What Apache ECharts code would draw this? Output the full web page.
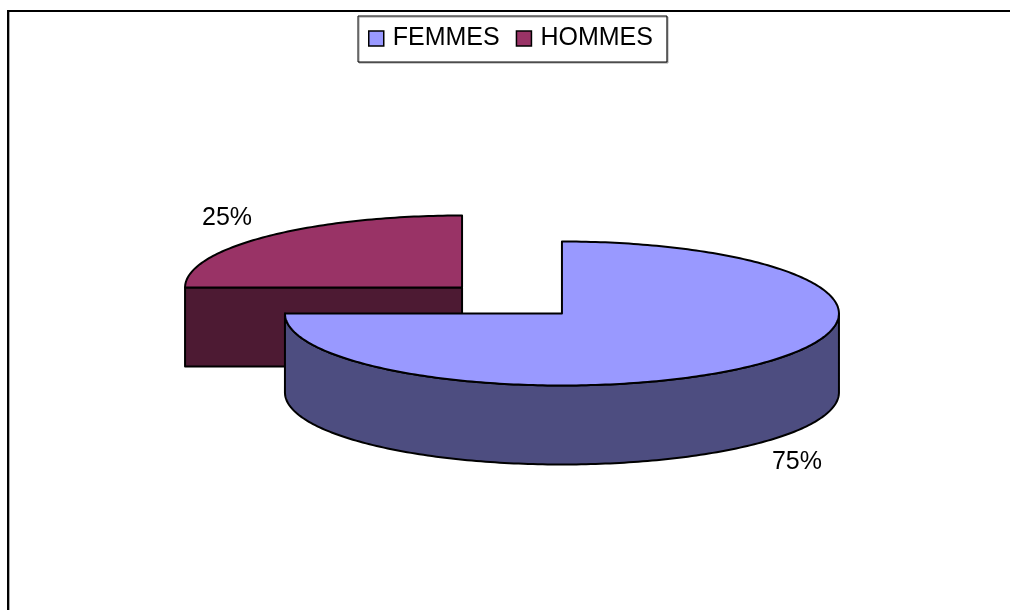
<!DOCTYPE html>
<html>
<head>
<meta charset="utf-8">
<title>FEMMES / HOMMES</title>
<script src="https://cdn.jsdelivr.net/npm/echarts/dist/echarts.min.js"></script>
<style>
    html, body { margin: 0; padding: 0; background: #fff; }
    #pie3d { width: 1010px; height: 610px; }
</style>
</head>
<body>
<div id="pie3d"></div>
<script>
//---数据定义区----------------------------------
var categories = ['FEMMES', 'HOMMES'];
var values = [75, 25];
var topColors = ['#9999FF', '#993366'];
var sideColors = ['#4D4D80', '#4D1A33'];
//----------------------------------------------

//---常量定义区----------------------------------
var CX = 512, CY = 300.5;      // 饼图中心
var RX = 277, RY = 72;         // 椭圆半轴
var DEPTH = 79;                // 厚度
var EXPLODE = 0.255;           // 分离程度
var FONT = 'Liberation Sans, Arial, sans-serif';
//----------------------------------------------

var total = values.reduce(function (s, v) { return s + v; }, 0);

function startOf(i) {
    var s = 0;
    for (var j = 0; j < i; j++) s += values[j];
    return s;
}

function midAngle(i) {
    return (startOf(i) + values[i] / 2) / total * Math.PI * 2;
}

function makeRender(i) {
    return function (params, api) {
        var v = api.value(0);
        var a = startOf(i) / total * Math.PI * 2;
        var b = (startOf(i) + v) / total * Math.PI * 2;
        var mid = (a + b) / 2;
        var cx = CX + EXPLODE * RX * Math.sin(mid);
        var cy = CY - EXPLODE * RY * Math.cos(mid);

        function pt(t, down) {
            return [cx + RX * Math.sin(t), cy - RY * Math.cos(t) + (down ? DEPTH : 0)];
        }
        function arc(t0, t1, down) {
            var pts = [], n = Math.max(2, Math.ceil(Math.abs(t1 - t0) / (Math.PI / 180)));
            for (var k = 0; k <= n; k++) pts.push(pt(t0 + (t1 - t0) * k / n, down));
            return pts;
        }
        var lineStyle = { stroke: '#000', lineWidth: 2, lineJoin: 'round' };
        function face(points, color) {
            return {
                type: 'polygon',
                shape: { points: points },
                style: Object.assign({ fill: color }, lineStyle)
            };
        }

        var children = [];
        var c = [cx, cy], cd = [cx, cy + DEPTH];
        // 切面
        if (Math.sin(a) < -1e-6) children.push(face([c, pt(a), pt(a, true), cd], sideColors[i]));
        if (Math.sin(b) > 1e-6) children.push(face([c, pt(b), pt(b, true), cd], sideColors[i]));
        // 外侧面
        var lo = Math.max(a, Math.PI / 2), hi = Math.min(b, Math.PI * 1.5);
        if (hi > lo) {
            children.push(face(arc(lo, hi).concat(arc(hi, lo, true)), sideColors[i]));
        }
        // 顶面
        children.push(face([c].concat(arc(a, b)), topColors[i]));

        // 标签
        var front = Math.cos(mid) < 0;
        children.push({
            type: 'text',
            x: cx + RX * 1.2 * Math.sin(mid),
            y: cy - RY * 1.37 * Math.cos(mid) + (front ? DEPTH : 0),
            style: {
                text: Math.round(v / total * 100) + '%',
                fontFamily: FONT,
                fontSize: 25,
                fill: '#000',
                align: 'center',
                verticalAlign: 'middle'
            }
        });

        return { type: 'group', children: children };
    };
}

var series = categories.map(function (name, i) {
    return {
        type: 'custom',
        name: name,
        coordinateSystem: 'none',
        z: 2 + Math.round(-Math.cos(midAngle(i)) * 10 + 10),
        itemStyle: { color: topColors[i] },
        renderItem: makeRender(i),
        data: [values[i]]
    };
});

var chart = echarts.init(document.getElementById('pie3d'));
chart.setOption({
    animation: false,
    backgroundColor: '#fff',
    legend: {
        data: categories,
        left: 358,
        top: 16,
        padding: [10, 14, 11, 10],
        itemWidth: 15,
        itemHeight: 15,
        itemGap: 16,
        icon: 'rect',
        selectedMode: false,
        borderColor: '#000',
        borderWidth: 1,
        backgroundColor: '#fff',
        shadowColor: '#999',
        shadowOffsetX: 1,
        shadowOffsetY: 1,
        itemStyle: { borderColor: '#000', borderWidth: 1.5 },
        textStyle: { fontFamily: FONT, fontSize: 25, color: '#000', padding: [0, 0, 0, 4] }
    },
    graphic: [
        {
            type: 'rect',
            silent: true,
            shape: { x: 8, y: 11, width: 1200, height: 1000 },
            style: { fill: null, stroke: '#000', lineWidth: 2 }
        },
        {
            type: 'line',
            silent: true,
            shape: { x1: 9.5, y1: 12, x2: 9.5, y2: 610 },
            style: { stroke: '#aaa', lineWidth: 1 }
        }
    ],
    series: series
});
</script>
</body>
</html>
